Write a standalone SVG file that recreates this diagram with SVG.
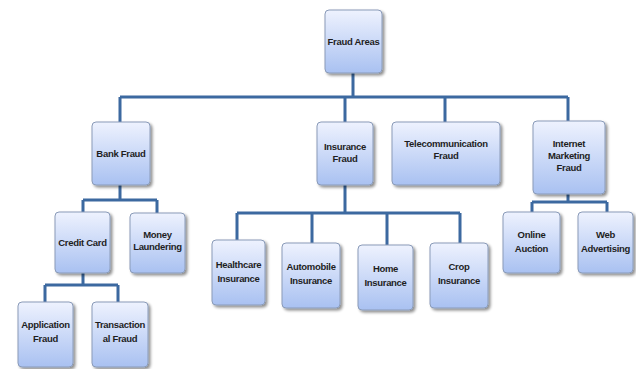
<svg xmlns="http://www.w3.org/2000/svg" width="636" height="369" viewBox="0 0 636 369">
<defs>
<linearGradient id="g" x1="0" y1="0" x2="0" y2="1">
<stop offset="0" stop-color="#eef2fe"/>
<stop offset="1" stop-color="#a9c1f1"/>
</linearGradient>
<filter id="sh" x="-20%" y="-20%" width="150%" height="150%">
<feGaussianBlur in="SourceAlpha" stdDeviation="1.5"/>
<feOffset dx="1.5" dy="2" result="b"/>
<feComponentTransfer><feFuncA type="linear" slope="0.45"/></feComponentTransfer>
<feMerge><feMergeNode/><feMergeNode in="SourceGraphic"/></feMerge>
</filter>
</defs>
<style>
.box{fill:url(#g);stroke:#8a9bb8;stroke-width:1;filter:url(#sh)}
.t{font-family:"Liberation Sans",Arial,sans-serif;font-weight:bold;font-size:9.5px;fill:#1e1e1e;text-anchor:middle;letter-spacing:-0.3px}
.c{fill:none;stroke:#3c69a0;stroke-width:3}
</style>
<rect width="636" height="369" fill="#ffffff"/>
<g id="connectors">
<path class="c" d="M353 73V97M120 97H568M120 97V122M345 97V122M445 97V122M568 97V121"/>
<path class="c" d="M120 185V200M83 200H157M83 200V212M157 200V213"/>
<path class="c" d="M83 273V285M45 285H118M45 285V302M118 285V302"/>
<path class="c" d="M345 185V213M237 213H460M237 213V240M312 213V243M387 213V245M460 213V243"/>
<path class="c" d="M568 194V202M532 202H607M532 202V212M607 202V212"/>
</g>
<g id="fraud-areas"><rect class="box" x="325" y="10" width="57" height="63" rx="4"/><text class="t" x="353.5" y="45">Fraud Areas</text></g>
<g id="bank-fraud"><rect class="box" x="92" y="122" width="58" height="63" rx="4"/><text class="t" x="121" y="157">Bank Fraud</text></g>
<g id="insurance-fraud"><rect class="box" x="317" y="122" width="56" height="63" rx="4"/><text class="t" x="345" y="150">Insurance</text><text class="t" x="345" y="162">Fraud</text></g>
<g id="telecommunication-fraud"><rect class="box" x="392" y="122" width="108" height="63" rx="4"/><text class="t" x="446" y="147">Telecommunication</text><text class="t" x="446" y="159">Fraud</text></g>
<g id="internet-marketing-fraud"><rect class="box" x="533" y="121" width="72" height="73" rx="4"/><text class="t" x="569" y="147">Internet</text><text class="t" x="569" y="159">Marketing</text><text class="t" x="569" y="171">Fraud</text></g>
<g id="credit-card"><rect class="box" x="55" y="212" width="55" height="61" rx="4"/><text class="t" x="82.5" y="246">Credit Card</text></g>
<g id="money-laundering"><rect class="box" x="130" y="213" width="55" height="60" rx="4"/><text class="t" x="157.5" y="238">Money</text><text class="t" x="157.5" y="250">Laundering</text></g>
<g id="application-fraud"><rect class="box" x="18" y="302" width="55" height="65" rx="4"/><text class="t" x="45.5" y="328">Application</text><text class="t" x="45.5" y="342">Fraud</text></g>
<g id="transactional-fraud"><rect class="box" x="92" y="302" width="56" height="65" rx="4"/><text class="t" x="120" y="328">Transaction</text><text class="t" x="120" y="342">al Fraud</text></g>
<g id="healthcare-insurance"><rect class="box" x="212" y="240" width="53" height="65" rx="4"/><text class="t" x="238.5" y="268">Healthcare</text><text class="t" x="238.5" y="282">Insurance</text></g>
<g id="automobile-insurance"><rect class="box" x="282" y="243" width="58" height="65" rx="4"/><text class="t" x="311" y="270">Automobile</text><text class="t" x="311" y="284">Insurance</text></g>
<g id="home-insurance"><rect class="box" x="358" y="245" width="55" height="65" rx="4"/><text class="t" x="385.5" y="272">Home</text><text class="t" x="385.5" y="286">Insurance</text></g>
<g id="crop-insurance"><rect class="box" x="430" y="243" width="58" height="65" rx="4"/><text class="t" x="459" y="270">Crop</text><text class="t" x="459" y="284">Insurance</text></g>
<g id="online-auction"><rect class="box" x="503" y="212" width="57" height="61" rx="4"/><text class="t" x="531.5" y="238">Online</text><text class="t" x="531.5" y="252">Auction</text></g>
<g id="web-advertising"><rect class="box" x="578" y="212" width="55" height="61" rx="4"/><text class="t" x="605.5" y="238">Web</text><text class="t" x="605.5" y="252">Advertising</text></g>
</svg>
